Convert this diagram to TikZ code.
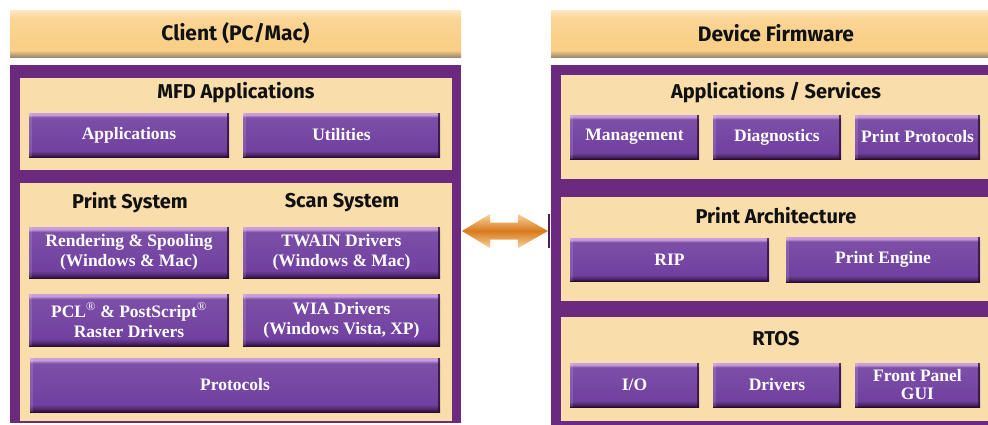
\documentclass[tikz,border=0pt]{standalone}
\usepackage{fontspec}
\setmainfont{Liberation Serif}
\newfontfamily\headfont{Fira Sans}
\usetikzlibrary{calc}
\definecolor{frameP}{HTML}{6B2A7D}
\definecolor{panelC}{HTML}{F9DDAB}
\definecolor{btnMid}{HTML}{7140A0}
\definecolor{btnDark}{HTML}{2A0B33}
\definecolor{btnLight}{HTML}{C99DDA}
\definecolor{hdrO}{HTML}{F9CE85}
\definecolor{hdrL}{HTML}{FDE9C4}
\definecolor{hdrB}{HTML}{9F8A6A}
\definecolor{arrO}{HTML}{D97A1C}
\definecolor{arrL}{HTML}{F8D39E}
\definecolor{txtD}{HTML}{111111}
\pgfdeclareverticalshading{btnshade}{100bp}{color(0bp)=(btnDark); color(25bp)=(btnDark); color(28bp)=(btnDark!45!btnMid); color(32bp)=(btnMid); color(70bp)=(btnMid!92!white); color(73bp)=(btnLight); color(75bp)=(btnLight); color(100bp)=(btnLight)}
\pgfdeclareverticalshading{hdrshade}{100bp}{color(0bp)=(hdrB); color(25bp)=(hdrB); color(29bp)=(hdrB!45!hdrO); color(32bp)=(hdrO); color(66bp)=(hdrO!75!hdrL); color(75bp)=(hdrL); color(100bp)=(hdrL)}
\tikzset{
  box/.style={inner sep=0pt, outer sep=0pt, anchor=north west},
  frame/.style={box, fill=frameP},
  panel/.style={box, fill=panelC},
  hdr/.style={box, shading=hdrshade, text=txtD,
    font=\headfont\bfseries\fontsize{21}{24}\selectfont},
  lbl/.style={inner sep=0pt, text=txtD, font=\headfont\bfseries\fontsize{20}{22}\selectfont},
  btn/.style={box, shading=btnshade, text=white, align=center,
    font=\bfseries\fontsize{17.5}{20}\selectfont,
    path picture={
      \fill[btnDark, opacity=0.75] ([xshift=-2.5pt]path picture bounding box.north east) rectangle (path picture bounding box.south east);
      \fill[white, opacity=0.12] (path picture bounding box.north west) rectangle ([xshift=3pt]path picture bounding box.south west);
    }},
}
\begin{document}
\begin{tikzpicture}[x=1pt, y=-1pt]
\fill[white] (0,0) rectangle (988,424);
\clip (0,0) rectangle (988,424);
% ---------- left side ----------
\node[hdr, minimum width=451pt, minimum height=47pt] (lhdr) at (10,10) {Client (PC/Mac)};
\node[frame, minimum width=451pt, minimum height=358pt] (lframe) at (10,65) {};
\node[panel, minimum width=432pt, minimum height=92pt] (mfd) at (20,78) {};
\node[lbl] (mfdl) at (236,93) {MFD Applications};
\node[btn, minimum width=200pt, minimum height=44pt] (apps) at (29,113) {Applications};
\node[btn, minimum width=197pt, minimum height=44pt] (utils) at (243,113) {Utilities};
\node[panel, minimum width=432pt, minimum height=238pt] (psys) at (20,183) {};
\node[lbl] (psl) at (130,203) {Print System};
\node[lbl] (ssl) at (342,203) {Scan System};
\node[btn, minimum width=200pt, minimum height=51pt] (rend) at (29,227) {Rendering \& Spooling\\(Windows \& Mac)};
\node[btn, minimum width=197pt, minimum height=51pt] (twain) at (243,227) {TWAIN Drivers\\(Windows \& Mac)};
\node[btn, minimum width=200pt, minimum height=52pt] (pcl) at (29,294) {PCL\textsuperscript{\mdseries\textregistered} \& PostScript\textsuperscript{\mdseries\textregistered}\\Raster Drivers};
\node[btn, minimum width=197pt, minimum height=52pt] (wia) at (243,294) {WIA Drivers\\(Windows Vista, XP)};
\node[btn, minimum width=410pt, minimum height=54pt] (proto) at (30,358) {Protocols};
% ---------- right side ----------
\node[hdr, minimum width=450pt, minimum height=47pt] (rhdr) at (551,10) {Device Firmware};
\node[frame, minimum width=455pt, minimum height=370pt] (rframe) at (551,65) {};
\node[panel, minimum width=432pt, minimum height=104pt] (appsvc) at (561,75) {};
\node[lbl] (appsvcl) at (776,93) {Applications / Services};
\node[btn, minimum width=129pt, minimum height=44pt] (mgmt) at (570,115) {Management};
\node[btn, minimum width=128pt, minimum height=44pt] (diag) at (713,115) {Diagnostics};
\node[btn, minimum width=125pt, minimum height=44pt] (pprot) at (855,115) {Print Protocols};
\node[panel, minimum width=432pt, minimum height=104pt] (parch) at (561,197) {};
\node[lbl] (parchl) at (776,216) {Print Architecture};
\node[btn, minimum width=199pt, minimum height=43pt] (rip) at (570,238) {RIP};
\node[btn, minimum width=194pt, minimum height=45pt] (peng) at (786,237) {Print Engine};
\node[panel, minimum width=432pt, minimum height=104pt] (rtos) at (561,317) {};
\node[lbl] (rtosl) at (776,339) {RTOS};
\node[btn, minimum width=129pt, minimum height=44pt] (io) at (570,363) {I/O};
\node[btn, minimum width=128pt, minimum height=44pt] (drv) at (713,363) {Drivers};
\node[btn, minimum width=125pt, minimum height=44pt, font=\bfseries\fontsize{17.5}{18}\selectfont] (fp) at (855,363) {Front Panel\\GUI};
% ---------- double arrow ----------
\coordinate (aL) at (462,231);
\coordinate (aR) at (548,231);
\path[top color=arrL, bottom color=arrL, middle color=arrO]
  (aL) -- ($(aL)+(28,-17)$) -- ($(aL)+(28,-8.5)$) -- ($(aR)+(-30,-8.5)$)
  -- ($(aR)+(-30,-17)$) -- (aR) -- ($(aR)+(-30,17)$) -- ($(aR)+(-30,8.5)$)
  -- ($(aL)+(28,8.5)$) -- ($(aL)+(28,17)$) -- cycle;
\draw[line width=1.5pt, draw=frameP!70!black] ($(aR)+(1,-17)$) -- ($(aR)+(1,17)$);
\end{tikzpicture}
\end{document}
